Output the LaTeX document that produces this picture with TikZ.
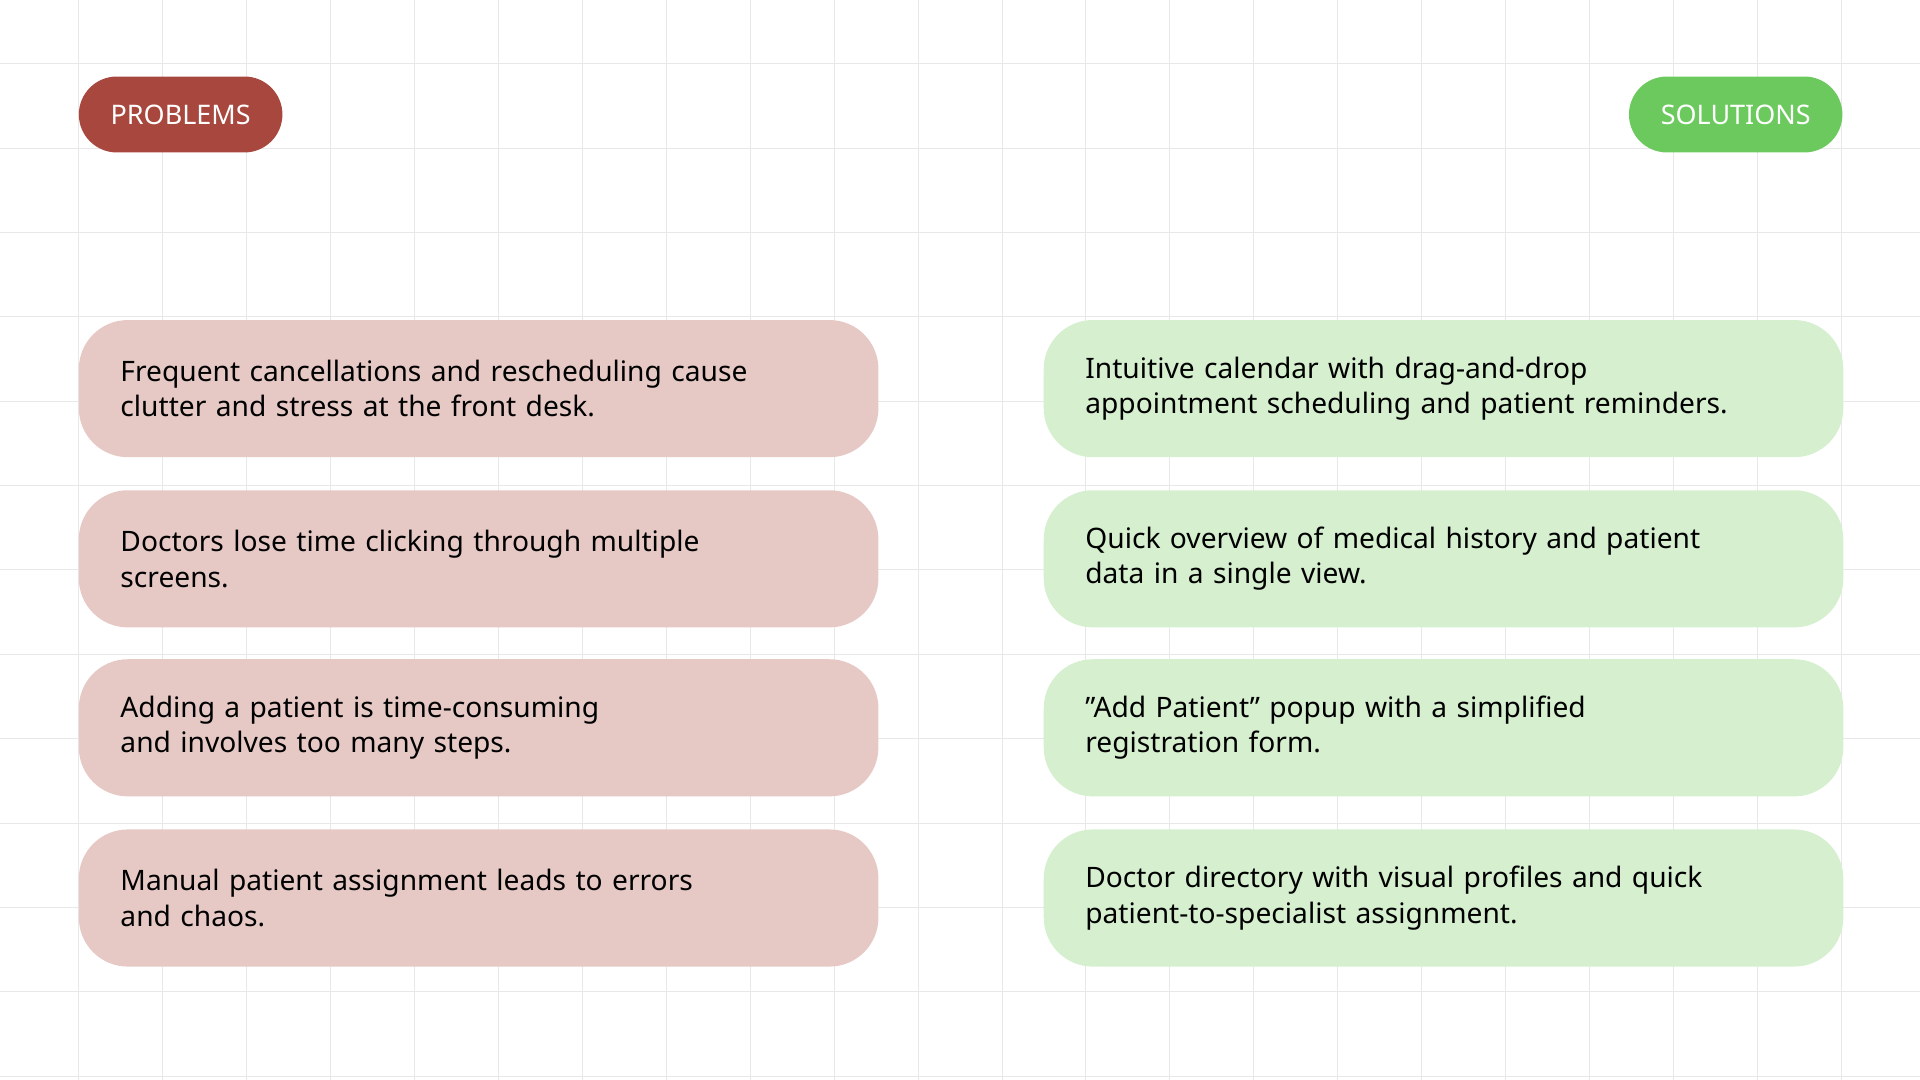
\documentclass[tikz,border=0pt]{standalone}
\usepackage{fontspec}
\setmainfont{Noto Sans}
\definecolor{gridline}{HTML}{E8E8E8}
\definecolor{probred}{HTML}{A8473D}
\definecolor{solgreen}{HTML}{6CC95E}
\definecolor{probfill}{HTML}{E6C9C5}
\definecolor{solfill}{HTML}{D5EFCF}
\tikzset{every picture/.style={line width=0.75pt}}
\tikzset{
  pill/.style={rounded corners=31pt, minimum height=62pt, inner xsep=26pt, text=white,
    font=\fontsize{22}{26}\selectfont\bfseries},
  card/.style={rounded corners=40pt, anchor=north west, minimum width=653pt, minimum height=112pt,
    inner xsep=34pt, text width=585pt, align=left, font=\fontsize{23}{29}\selectfont},
}
\begin{document}
\begin{tikzpicture}[x=1pt,y=1pt,yscale=-1,xscale=1]
\useasboundingbox (0,0) rectangle (1568,882);

%Grid
\foreach \i in {0,...,21} {
  \draw [gridline] (64+68.57*\i,0) -- (64+68.57*\i,882) ;
}
\foreach \j in {0,...,12} {
  \draw [gridline] (0,52+68.9*\j) -- (1568,52+68.9*\j) ;
}

%Headers
\node [pill, fill=probred, anchor=west] (problems) at (64,93.5) {PROBLEMS};
\node [pill, fill=solgreen, anchor=east] (solutions) at (1505,93.5) {SOLUTIONS};

%Problem cards
\node [card, fill=probfill] (prob1) at (64,261) {Frequent cancellations and rescheduling cause\\clutter and stress at the front desk.};
\node [card, fill=probfill] (prob2) at (64,400) {Doctors lose time clicking through multiple\\screens.};
\node [card, fill=probfill] (prob3) at (64,538) {Adding a patient is time-consuming\\and involves too many steps.};
\node [card, fill=probfill] (prob4) at (64,677) {Manual patient assignment leads to errors\\and chaos.};

%Solution cards
\node [card, fill=solfill] (sol1) at (852,261) {Intuitive calendar with drag-and-drop\\appointment scheduling and patient reminders.};
\node [card, fill=solfill] (sol2) at (852,400) {Quick overview of medical history and patient\\data in a single view.};
\node [card, fill=solfill] (sol3) at (852,538) {"Add Patient" popup with a simplified\\registration form.};
\node [card, fill=solfill] (sol4) at (852,677) {Doctor directory with visual profiles and quick\\patient-to-specialist assignment.};

\end{tikzpicture}
\end{document}
